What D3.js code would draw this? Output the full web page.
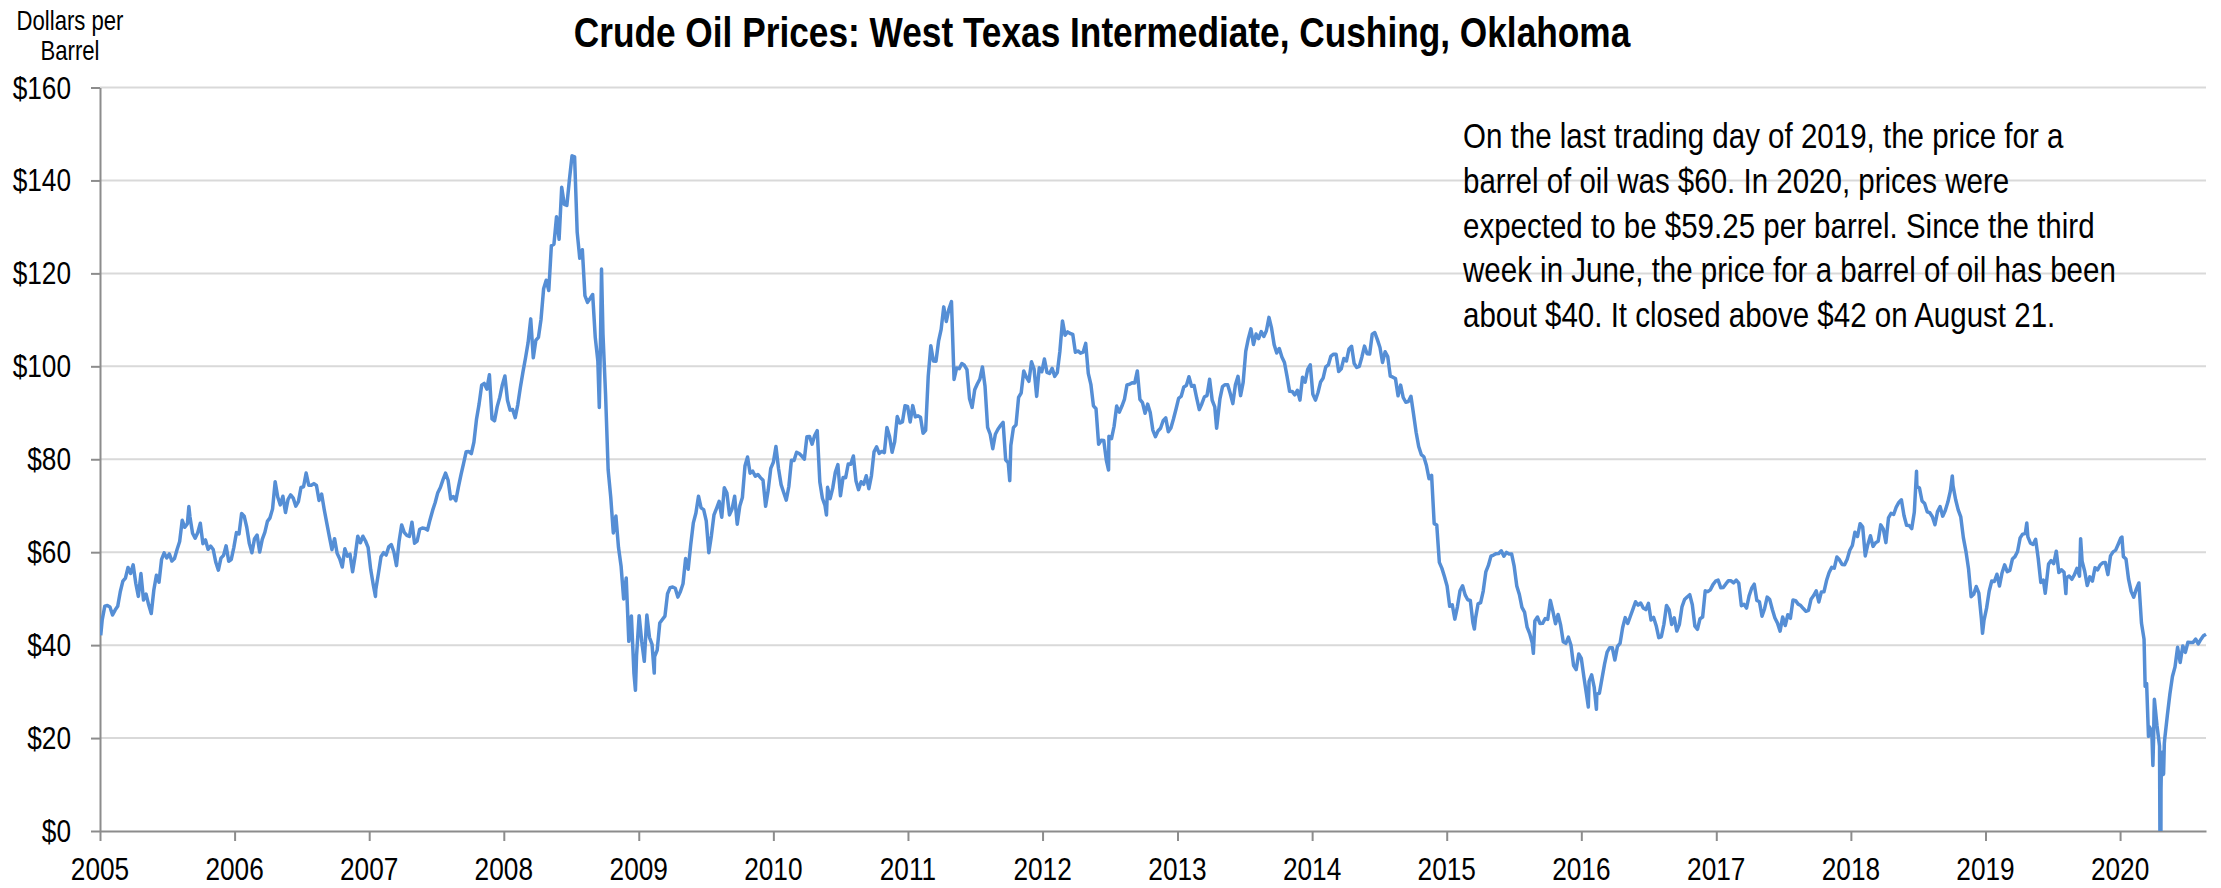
<!DOCTYPE html>
<html>
<head>
<meta charset="utf-8">
<script src="https://cdn.jsdelivr.net/npm/d3@7"></script>
<style>
  body { margin: 0; background: #fff; }
  svg { display: block; }
</style>
</head>
<body>
<svg id="chart"></svg>
<script>
// Weekly (Friday) closing spot prices, $/barrel, one array per year
const prices2005 = [45.43, 48.38, 48.53, 48.20, 46.48, 47.54, 48.35, 51.49, 53.78, 54.43, 56.72, 55.42, 57.27, 53.32, 50.49, 55.39, 49.72, 50.97, 48.67, 46.80, 51.85, 55.03, 53.54, 58.47, 59.84, 58.75, 59.63, 58.09, 58.65, 60.57, 62.31, 66.86, 65.36, 66.13, 67.57, 64.08, 63.00, 64.19, 66.24, 61.84, 62.63, 60.62, 61.32, 60.58, 57.82, 56.13, 58.71, 59.32, 61.37, 58.06, 58.43, 61.04];
const prices2006 = [64.21, 63.92, 68.35, 67.76, 65.37, 61.84, 59.88, 62.91, 63.67, 60.03, 62.77, 64.26, 66.63, 67.39, 69.32, 75.17, 71.88, 70.19, 72.04, 68.53, 71.37, 72.33, 71.63, 69.91, 70.87, 73.93, 74.09, 77.03, 74.43, 74.40, 74.76, 74.35, 71.14, 72.51, 69.20, 66.25, 63.34, 60.55, 62.91, 59.76, 58.57, 56.82, 60.75, 59.14, 59.58, 55.81, 59.24, 63.43, 62.03, 63.43, 62.41, 61.05];
const prices2007 = [56.31, 52.99, 51.99, 55.42, 59.02, 59.89, 59.39, 61.14, 61.64, 60.05, 57.11, 62.28, 65.87, 64.28, 63.63, 63.38, 66.46, 61.93, 62.37, 64.94, 65.20, 65.08, 64.76, 67.00, 68.99, 70.68, 72.81, 73.93, 75.57, 77.02, 75.48, 71.47, 71.98, 71.09, 74.04, 76.70, 79.10, 81.62, 81.66, 81.22, 83.69, 88.60, 91.86, 95.93, 96.32, 95.10, 98.18, 88.71, 88.28, 91.27, 93.31, 96.00];
const prices2008 = [97.91, 92.69, 90.57, 90.71, 88.96, 91.77, 95.50, 98.81, 101.84, 105.15, 110.21, 101.84, 105.62, 106.23, 110.14, 116.69, 118.52, 116.32, 125.96, 126.29, 132.19, 127.35, 138.54, 134.86, 134.62, 140.21, 145.29, 145.08, 128.88, 123.26, 125.10, 115.20, 113.77, 114.59, 115.46, 106.23, 101.18, 104.55, 106.89, 93.88, 77.70, 71.85, 64.15, 67.81, 61.04, 57.04, 49.93, 54.43, 40.81, 46.28, 33.87, 37.71];
const prices2009 = [46.34, 40.83, 36.51, 46.47, 41.68, 40.17, 37.51, 38.94, 44.76, 45.52, 46.25, 51.06, 52.38, 52.51, 52.24, 50.33, 51.55, 53.20, 58.63, 56.34, 61.67, 66.31, 68.44, 72.04, 69.55, 69.16, 66.73, 59.89, 63.56, 68.05, 69.45, 70.93, 67.51, 73.89, 72.74, 68.02, 69.29, 72.04, 66.02, 69.95, 71.77, 78.53, 80.50, 77.00, 77.43, 76.35, 76.72, 76.05, 75.47, 69.87, 73.36, 78.05];
const prices2010 = [79.36, 82.75, 78.00, 74.54, 72.85, 71.19, 74.13, 79.81, 79.72, 81.50, 81.24, 80.68, 80.00, 84.87, 84.92, 83.24, 85.12, 86.15, 75.11, 71.61, 70.04, 73.97, 71.51, 73.78, 77.18, 78.86, 72.14, 76.09, 76.01, 78.98, 78.95, 80.70, 75.39, 73.46, 75.17, 74.60, 76.45, 73.66, 76.49, 81.58, 82.66, 81.25, 81.69, 81.43, 86.85, 84.88, 81.51, 83.76, 89.19, 87.79, 88.02, 91.51, 91.38];
const prices2011 = [88.03, 91.54, 89.11, 89.34, 89.03, 85.58, 86.20, 97.88, 104.42, 101.16, 101.07, 105.40, 107.94, 112.79, 109.66, 112.29, 113.93, 97.18, 99.65, 99.49, 100.59, 100.22, 99.29, 93.01, 91.16, 94.94, 96.20, 97.24, 99.87, 95.70, 86.88, 85.38, 82.26, 85.37, 86.45, 87.24, 87.96, 79.85, 79.20, 82.98, 86.80, 87.40, 93.32, 94.26, 98.99, 97.67, 96.77, 100.96, 99.41, 93.53, 99.68, 98.83];
const prices2012 = [101.56, 98.70, 98.46, 99.56, 97.84, 98.67, 103.24, 109.77, 106.70, 107.40, 107.06, 106.87, 103.02, 103.31, 102.83, 103.05, 104.93, 98.49, 96.13, 91.48, 90.86, 83.23, 84.10, 84.03, 79.76, 84.96, 84.45, 87.10, 91.44, 90.13, 91.40, 92.87, 96.01, 96.15, 96.47, 96.42, 99.00, 92.89, 92.19, 89.88, 91.86, 90.05, 86.28, 84.86, 86.07, 86.67, 88.28, 88.91, 85.93, 86.73, 88.66, 90.80];
const prices2013 = [93.09, 93.56, 95.56, 95.88, 97.77, 95.72, 95.86, 93.13, 90.68, 91.95, 93.45, 93.71, 97.23, 92.70, 91.29, 88.01, 93.00, 95.61, 96.04, 96.02, 94.15, 91.97, 96.03, 97.85, 93.69, 96.56, 103.22, 105.95, 108.05, 104.70, 106.94, 105.97, 107.46, 106.42, 107.65, 110.53, 108.21, 104.67, 102.87, 103.84, 102.02, 100.81, 97.85, 94.61, 94.60, 93.84, 94.84, 92.72, 97.65, 96.60, 99.32, 100.32];
const prices2014 = [93.96, 92.72, 94.37, 96.64, 97.49, 99.88, 100.30, 102.20, 102.59, 102.58, 98.89, 99.46, 101.67, 101.14, 103.74, 104.30, 100.60, 99.76, 99.99, 102.02, 104.35, 102.71, 102.66, 106.91, 107.26, 105.74, 104.06, 100.83, 103.13, 102.09, 97.88, 97.65, 97.35, 93.65, 95.96, 93.29, 92.27, 92.41, 93.54, 89.74, 85.82, 82.75, 81.01, 80.54, 78.65, 75.82, 76.51, 66.15, 65.84, 57.81, 56.52, 54.73];
const prices2015 = [52.72, 48.36, 48.69, 45.59, 48.24, 51.69, 52.78, 50.81, 49.76, 49.61, 44.84, 45.72, 48.87, 49.14, 51.64, 55.74, 57.15, 59.15, 59.39, 59.69, 59.72, 60.30, 59.13, 59.96, 59.61, 59.63, 56.93, 52.74, 50.89, 48.14, 47.12, 43.87, 42.50, 40.45, 45.22, 46.05, 44.63, 44.68, 45.70, 45.54, 49.63, 47.26, 44.60, 46.59, 44.29, 40.74, 40.39, 41.71, 39.97, 35.62, 34.73, 38.10];
const prices2016 = [37.13, 33.16, 29.42, 32.19, 33.62, 30.89, 29.44, 29.64, 32.78, 35.92, 38.50, 39.44, 39.46, 36.79, 39.72, 40.36, 43.73, 45.92, 44.66, 46.21, 47.75, 49.33, 48.62, 49.07, 47.98, 47.64, 48.99, 45.41, 45.95, 44.19, 41.60, 41.80, 44.49, 48.52, 47.64, 44.44, 45.88, 43.03, 44.48, 48.24, 49.81, 50.35, 50.85, 48.70, 44.07, 43.41, 45.69, 46.06, 51.68, 51.50, 51.90, 53.02, 53.75];
const prices2017 = [53.98, 52.37, 52.42, 53.17, 53.86, 53.84, 53.40, 53.99, 53.33, 48.49, 48.78, 47.97, 50.60, 52.24, 53.11, 49.62, 49.33, 46.22, 47.84, 50.33, 49.80, 47.66, 45.83, 44.74, 43.01, 46.04, 44.23, 46.54, 45.77, 49.71, 49.58, 48.82, 48.51, 47.87, 47.29, 47.48, 49.89, 50.66, 51.67, 49.29, 51.45, 51.47, 53.90, 55.64, 56.74, 56.55, 58.95, 58.36, 57.36, 57.30, 58.47, 60.42];
const prices2018 = [61.44, 64.30, 63.37, 66.14, 65.45, 59.20, 61.68, 63.55, 61.25, 62.04, 62.34, 65.88, 64.94, 62.06, 67.39, 68.38, 68.10, 69.72, 70.70, 71.28, 67.88, 65.81, 65.74, 65.06, 68.58, 74.15, 73.80, 71.01, 70.46, 68.69, 68.49, 67.63, 65.91, 68.72, 69.80, 67.75, 68.99, 70.78, 73.25, 74.34, 71.34, 69.12, 67.59, 63.14, 60.19, 56.46, 50.42, 50.93, 52.61, 51.20, 45.59, 45.33];
const prices2019 = [47.96, 51.59, 53.80, 53.69, 55.26, 52.72, 55.59, 57.26, 55.80, 56.07, 58.52, 59.04, 60.14, 63.08, 63.89, 64.00, 63.30, 61.94, 61.66, 62.76, 58.63, 53.50, 53.99, 52.51, 57.43, 58.20, 57.51, 60.21, 55.63, 56.20, 55.66, 54.50, 54.87, 54.17, 55.10, 56.52, 54.85, 58.09, 55.91, 52.81, 54.70, 53.78, 56.66, 56.20, 57.24, 57.72, 57.77, 55.17, 59.20, 60.07, 60.44, 61.72];
const prices2020 = [63.05, 59.04, 58.54, 54.19, 51.56, 50.32, 52.05, 53.38, 44.76, 41.28, 31.73, 22.43, 21.51, 28.34, 22.76, 18.27, 16.94, 19.78, 24.74, 29.43, 33.25, 35.32, 39.55, 36.26, 39.83, 38.44, 40.63, 40.55, 40.59, 41.29, 40.27, 41.22, 42.01, 42.34];

// Single trading days that the weekly closes miss (highs, lows, spikes)
const spikeDates = ['2005-01-03', '2005-08-30', '2007-01-18', '2008-09-16', '2008-09-22', '2008-12-23', '2009-02-12', '2010-05-25', '2011-10-04', '2012-06-28', '2013-04-17', '2015-03-17', '2015-08-24', '2016-01-20', '2016-02-11', '2018-06-28', '2018-10-03', '2018-12-24', '2019-04-23', '2019-06-12', '2019-08-07', '2019-09-16', '2020-01-06', '2020-03-09', '2020-03-18', '2020-03-30', '2020-04-01', '2020-04-02', '2020-04-20', '2020-04-21', '2020-04-22', '2020-04-27', '2020-04-28', '2020-04-30'];
const spikeValues = [42.12, 69.81, 50.48, 91.15, 120.92, 30.28, 33.98, 68.01, 75.40, 77.69, 86.68, 43.46, 38.24, 26.68, 26.19, 77.41, 76.41, 42.53, 66.30, 51.14, 51.09, 62.90, 63.27, 31.13, 20.37, 14.10, 20.31, 25.32, -36.98, 8.91, 13.64, 12.17, 12.34, 18.84];

const yearLabels = ['2005', '2006', '2007', '2008', '2009', '2010', '2011', '2012', '2013', '2014', '2015', '2016', '2017', '2018', '2019', '2020'];
const yTicks = [0, 20, 40, 60, 80, 100, 120, 140, 160];
const titleText = 'Crude Oil Prices: West Texas Intermediate, Cushing, Oklahoma';
const unitLines = ['Dollars per', 'Barrel'];
const noteLines = [
  'On the last trading day of 2019, the price for a',
  'barrel of oil was $60. In 2020, prices were',
  'expected to be $59.25 per barrel. Since the third',
  'week in June, the price for a barrel of oil has been',
  'about $40. It closed above $42 on August 21.'
];

const yearly = [prices2005, prices2006, prices2007, prices2008, prices2009, prices2010, prices2011, prices2012,
  prices2013, prices2014, prices2015, prices2016, prices2017, prices2018, prices2019, prices2020];

// Build the series: weekly closes dated on Fridays, plus the single days
function firstFriday(year) {
  const d = new Date(year, 0, 1);
  while (d.getDay() !== 5) d.setDate(d.getDate() + 1);
  return d.getDate();
}
const series = [];
yearly.forEach((vals, k) => {
  const year = 2005 + k, day0 = firstFriday(year);
  vals.forEach((v, i) => series.push({ date: new Date(year, 0, day0 + 7 * i), value: v }));
});
const parseDay = d3.timeParse('%Y-%m-%d');
spikeDates.forEach((s, i) => series.push({ date: parseDay(s), value: spikeValues[i] }));
series.sort((a, b) => a.date - b.date);

// Layout
const W = 2221, H = 888;
const plotL = 100, plotR = 2206, plotT = 87.5, plotB = 831;
const svg = d3.select('#chart').attr('width', W).attr('height', H);
svg.append('rect').attr('width', W).attr('height', H).attr('fill', '#fff');

// Text is Arial Narrow in the original; fall back to a squeezed Liberation Sans if needed
const font = (function pickFont() {
  const probe = svg.append('text').attr('font-size', 100).text('Dollars per Barrel');
  probe.attr('font-family', '"Liberation Sans"');
  const wide = probe.node().getComputedTextLength();
  probe.attr('font-family', '"Liberation Sans Narrow"');
  const narrow = probe.node().getComputedTextLength();
  probe.remove();
  return narrow < wide * 0.9
    ? { family: '"Liberation Sans Narrow", "Arial Narrow", sans-serif', sx: 1 }
    : { family: '"Liberation Sans", Arial, sans-serif', sx: 0.82 };
})();

function label(x, y, str, size, anchor, weight) {
  return svg.append('text')
    .attr('transform', `translate(${x},${y}) scale(${font.sx},1)`)
    .attr('font-family', font.family)
    .attr('font-size', size)
    .attr('font-weight', weight || 'normal')
    .attr('text-anchor', anchor || 'start')
    .attr('fill', '#000')
    .text(str);
}

const x = d3.scaleTime()
  .domain([new Date(2005, 0, 1), new Date(2020, 7, 21)])
  .range([plotL, plotR]);
const y = d3.scaleLinear().domain([0, 160]).range([plotB, plotT]);

// Gridlines
svg.append('g')
  .selectAll('line')
  .data(yTicks.filter(v => v > 0))
  .join('line')
  .attr('x1', plotL).attr('x2', plotR)
  .attr('y1', d => y(d)).attr('y2', d => y(d))
  .attr('stroke', '#d9d9d9')
  .attr('stroke-width', 2);

// Axes (ticks and lines only, labels drawn below)
const yearDates = yearLabels.map(s => new Date(+s, 0, 1));
const xAxis = svg.append('g')
  .attr('transform', `translate(0,${plotB})`)
  .call(d3.axisBottom(x).tickValues(yearDates).tickSize(10).tickSizeOuter(0).tickFormat(''));
const yAxis = svg.append('g')
  .attr('transform', `translate(${plotL},0)`)
  .call(d3.axisLeft(y).tickValues(yTicks).tickSize(9).tickSizeOuter(0).tickFormat(''));
[xAxis, yAxis].forEach(g => {
  g.select('.domain').attr('stroke', '#8c8c8c').attr('stroke-width', 2);
  g.selectAll('.tick line').attr('stroke', '#8c8c8c').attr('stroke-width', 2);
});

// Price line, clipped to the plot area (the April 2020 negative close runs off the axis)
svg.append('clipPath').attr('id', 'plotClip')
  .append('rect')
  .attr('x', plotL).attr('y', plotT - 10)
  .attr('width', plotR - plotL + 2).attr('height', plotB - plotT + 10);

const line = d3.line()
  .x(d => x(d.date))
  .y(d => y(d.value));

svg.append('path')
  .datum(series)
  .attr('clip-path', 'url(#plotClip)')
  .attr('fill', 'none')
  .attr('stroke', '#558ed5')
  .attr('stroke-width', 3.5)
  .attr('stroke-linejoin', 'round')
  .attr('d', line);

// Tick labels
yTicks.forEach(v => label(71, y(v) + 11, '$' + v, 32, 'end'));
yearLabels.forEach((s, i) => label(x(yearDates[i]), 880, s, 32, 'middle'));

// Titles and note
label(1102, 47, titleText, 43, 'middle', 'bold');
unitLines.forEach((s, i) => label(70, 30 + i * 30, s, 27, 'middle'));
noteLines.forEach((s, i) => label(1463, 148 + i * 44.75, s, 36, 'start'));
</script>
</body>
</html>
